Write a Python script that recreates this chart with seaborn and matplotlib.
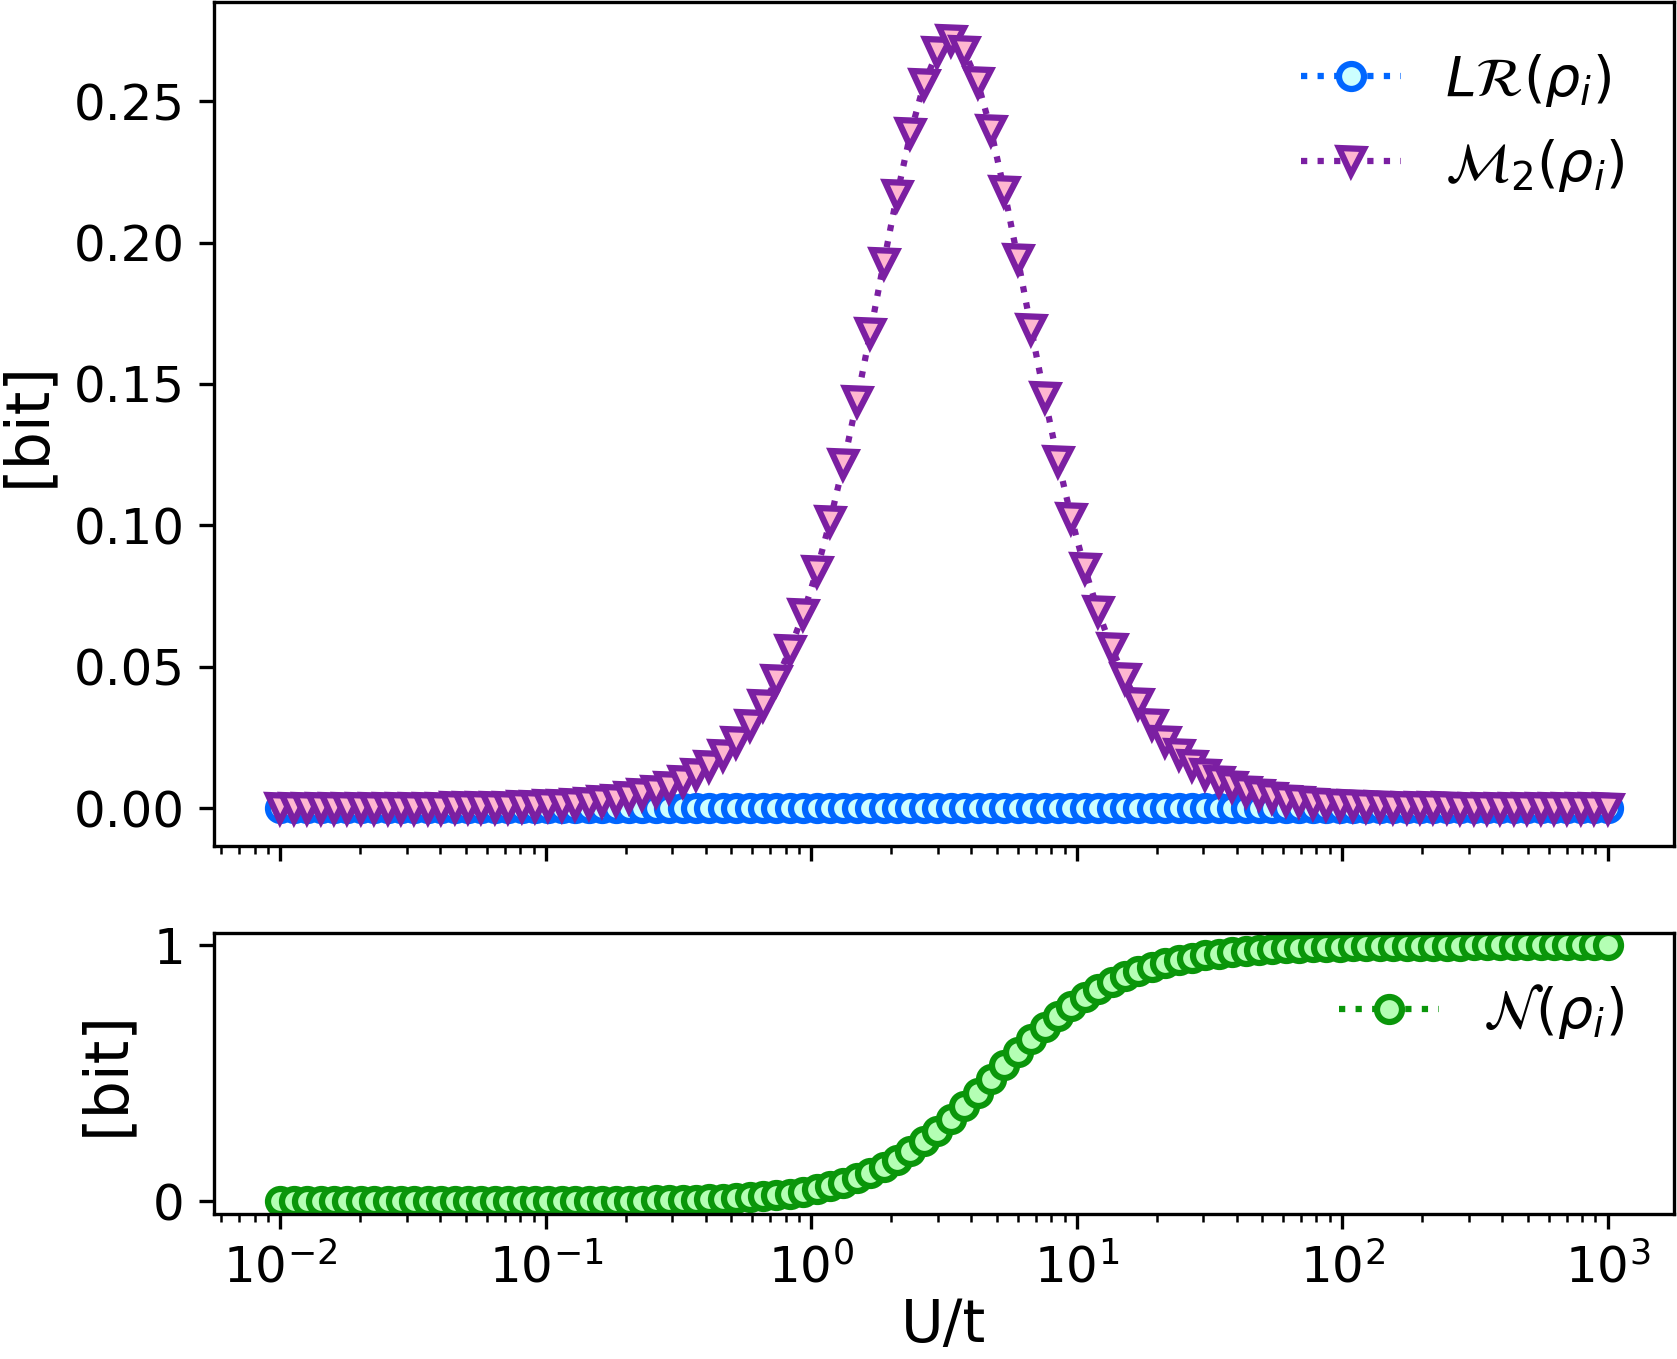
import matplotlib
matplotlib.use("Agg")
import matplotlib.pyplot as plt
import seaborn as sns

# U/t sample points (log-spaced grid)
U_t = [0.01,0.011233,0.012619,0.014175,0.015923,0.017886,0.020092,0.02257,0.025354,0.02848,
       0.031993,0.035938,0.04037,0.045349,0.050941,0.057224,0.064281,0.072208,0.081113,0.091116,
       0.10235,0.11498,0.12915,0.14508,0.16298,0.18307,0.20565,0.23101,0.2595,0.29151,
       0.32745,0.36784,0.4132,0.46416,0.5214,0.5857,0.65793,0.73907,0.83022,0.9326,
       1.0476,1.1768,1.3219,1.485,1.6681,1.8738,2.1049,2.3645,2.6561,2.9836,
       3.3516,3.7649,4.2292,4.7508,5.3367,5.9948,6.7342,7.5646,8.4975,9.5455,
       10.723,12.045,13.53,15.199,17.074,19.179,21.544,24.201,27.186,30.539,
       34.305,38.535,43.288,48.626,54.623,61.359,68.926,77.426,86.975,97.701,
       109.75,123.28,138.49,155.57,174.75,196.3,220.51,247.71,278.26,312.57,
       351.12,394.42,443.06,497.7,559.08,628.03,705.48,792.48,890.22,1000.0]

# L R (rho_i): zero everywhere
LR = [0.0] * 100

# M_2 (rho_i)
M2 = [0.0000,0.0000,0.0000,0.0000,0.0000,0.0000,0.0000,0.0000,0.0001,0.0001,
      0.0001,0.0001,0.0001,0.0002,0.0002,0.0003,0.0004,0.0005,0.0006,0.0007,
      0.0009,0.0012,0.0015,0.0019,0.0024,0.0030,0.0038,0.0048,0.0060,0.0076,
      0.0095,0.0119,0.0150,0.0188,0.0235,0.0293,0.0365,0.0453,0.0559,0.0687,
      0.0838,0.1015,0.1216,0.1439,0.1680,0.1928,0.2169,0.2386,0.2560,0.2674,
      0.2715,0.2679,0.2569,0.2398,0.2183,0.1943,0.1695,0.1454,0.1229,0.1026,
      0.0848,0.0696,0.0566,0.0459,0.0370,0.0297,0.0238,0.0190,0.0152,0.0121,
      0.0096,0.0077,0.0061,0.0048,0.0038,0.0030,0.0024,0.0019,0.0015,0.0012,
      0.0010,0.0008,0.0006,0.0005,0.0004,0.0003,0.0002,0.0002,0.0001,0.0001,
      0.0001,0.0001,0.0001,0.0000,0.0000,0.0000,0.0000,0.0000,0.0000,0.0000]

# N (rho_i)
N = [0.0000,0.0000,0.0000,0.0000,0.0000,0.0000,0.0000,0.0000,0.0000,0.0000,
     0.0000,0.0001,0.0001,0.0001,0.0001,0.0001,0.0002,0.0002,0.0003,0.0004,
     0.0005,0.0006,0.0008,0.0009,0.0012,0.0015,0.0019,0.0024,0.0030,0.0038,
     0.0048,0.0061,0.0076,0.0096,0.0121,0.0152,0.0191,0.0239,0.0300,0.0375,
     0.0468,0.0583,0.0722,0.0892,0.1097,0.1340,0.1626,0.1958,0.2336,0.2760,
     0.3224,0.3722,0.4244,0.4778,0.5313,0.5836,0.6336,0.6806,0.7238,0.7630,
     0.7980,0.8288,0.8557,0.8789,0.8988,0.9157,0.9300,0.9420,0.9521,0.9605,
     0.9675,0.9733,0.9781,0.9821,0.9853,0.9880,0.9902,0.9920,0.9935,0.9947,
     0.9957,0.9965,0.9972,0.9977,0.9981,0.9985,0.9988,0.9990,0.9992,0.9993,
     0.9995,0.9996,0.9997,0.9997,0.9998,0.9998,0.9999,0.9999,0.9999,0.9999]

labels = [r'$L\mathcal{R}(\rho_i)$', r'$\mathcal{M}_2(\rho_i)$', r'$\mathcal{N}(\rho_i)$']

fig = plt.figure(figsize=(1677/300, 1359/300), dpi=300)
gs = fig.add_gridspec(2, 1, height_ratios=[3, 1], hspace=0.153,
                      left=214/1677, right=1674/1677, top=1-2/1359, bottom=1-1214/1359)
ax1 = fig.add_subplot(gs[0])
ax2 = fig.add_subplot(gs[1], sharex=ax1)

sns.lineplot(x=U_t, y=LR, ax=ax1, marker='o', linestyle=':', color='#0066ff', lw=1.5,
             markerfacecolor='#ccffff', markeredgecolor='#0066ff', markeredgewidth=1.5,
             markersize=6, label=labels[0])
sns.lineplot(x=U_t, y=M2, ax=ax1, marker='v', linestyle=':', color='#7b1fa2', lw=1.5,
             markerfacecolor='#ffb6d0', markeredgecolor='#7b1fa2', markeredgewidth=1.5,
             markersize=6, label=labels[1])
sns.lineplot(x=U_t, y=N, ax=ax2, marker='o', linestyle=':', color='#0a960a', lw=1.5,
             markerfacecolor='#b4ffb4', markeredgecolor='#0a960a', markeredgewidth=1.5,
             markersize=6, label=labels[2])

ax1.set_xscale('log')
ax1.legend(loc='upper right', frameon=False, fontsize=13.3, handlelength=1.8)
ax2.legend(loc='upper right', frameon=False, fontsize=13.3, handlelength=1.8)
ax2.set_yticks([0, 1])
ax1.tick_params(labelbottom=False, labelsize=12)
ax2.tick_params(labelsize=12)
ax1.set_xlabel('')
ax1.set_ylabel('[bit]', fontsize=14.5)
ax2.set_ylabel('[bit]', fontsize=14.5)
ax2.set_xlabel('U/t', fontsize=14, labelpad=1)

fig.savefig('out.png', dpi=300)
